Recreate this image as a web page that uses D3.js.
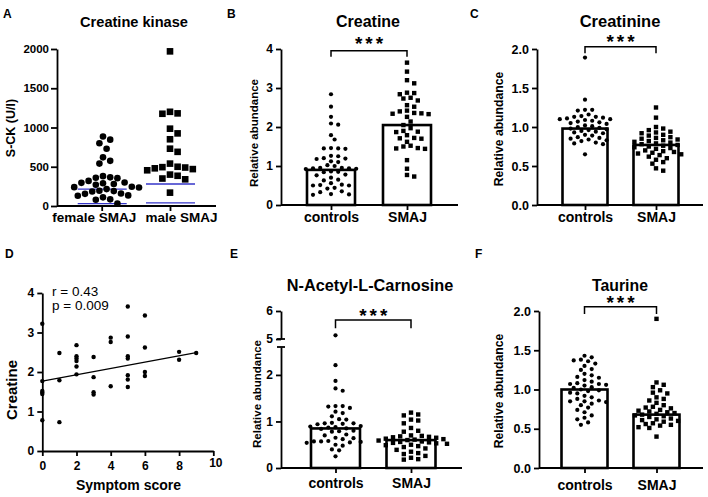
<!DOCTYPE html>
<html><head><meta charset="utf-8">
<script src="https://cdn.jsdelivr.net/npm/d3@7"></script>
<style>body{margin:0;background:#fff} svg{display:block}</style>
</head><body><svg id="c" width="708" height="497"></svg>
<script>
// ---------------- DATA ----------------
const ckCats = ["female SMAJ", "male SMAJ"];
const ckFemale = [885, 845, 800, 730, 620, 575, 540, 380, 365, 360, 355, 320, 300, 295, 290, 280, 270, 245, 240, 235, 215, 195, 190, 185, 160, 155, 135, 130, 110, 85, 80, 30];
const ckMale = [1970, 1200, 1180, 1175, 985, 925, 850, 730, 690, 540, 500, 495, 490, 480, 470, 455, 400, 385, 350, 340, 170];
const ckFemaleLines = [215, 30];
const ckMaleLines = [280, 40];
const ckTicks = [0, 500, 1000, 1500, 2000];

const groupCats = ["controls", "SMAJ"];
const creatineCtrl = [2.84, 2.52, 2.26, 2.09, 2.06, 1.79, 1.68, 1.46, 1.45, 1.45, 1.44, 1.26, 1.25, 1.2, 1.19, 1.18, 1.12, 1.1, 1.02, 1.0, 0.95, 0.95, 0.94, 0.94, 0.93, 0.92, 0.86, 0.85, 0.84, 0.78, 0.76, 0.7, 0.65, 0.63, 0.56, 0.52, 0.51, 0.5, 0.5, 0.44, 0.42, 0.35, 0.33, 0.28, 0.27, 0.26];
const creatineSmaj = [3.65, 3.42, 3.2, 3.12, 2.88, 2.87, 2.84, 2.75, 2.73, 2.68, 2.56, 2.52, 2.42, 2.4, 2.36, 2.35, 2.34, 2.33, 2.26, 2.14, 2.05, 1.97, 1.9, 1.88, 1.87, 1.79, 1.72, 1.71, 1.7, 1.62, 1.52, 1.5, 1.46, 1.45, 1.44, 1.15, 0.93, 0.77, 0.73];
const creatineMeans = [0.9, 2.05];
const creatineTicks = [0, 1, 2, 3, 4];

const creatinineCtrl = [1.89, 1.35, 1.22, 1.22, 1.21, 1.16, 1.14, 1.13, 1.13, 1.12, 1.11, 1.1, 1.1, 1.09, 1.08, 1.07, 1.06, 1.05, 1.04, 1.02, 1.01, 1.0, 0.99, 0.98, 0.97, 0.96, 0.95, 0.94, 0.93, 0.92, 0.9, 0.89, 0.87, 0.86, 0.85, 0.84, 0.83, 0.82, 0.8, 0.79, 0.78, 0.65];
const creatinineSmaj = [1.25, 1.12, 1.0, 0.98, 0.96, 0.94, 0.93, 0.92, 0.9, 0.89, 0.87, 0.86, 0.85, 0.84, 0.83, 0.82, 0.81, 0.8, 0.79, 0.78, 0.77, 0.76, 0.75, 0.74, 0.73, 0.72, 0.7, 0.69, 0.68, 0.67, 0.66, 0.65, 0.64, 0.62, 0.6, 0.58, 0.55, 0.53, 0.47, 0.44];
const creatinineMeans = [0.98, 0.77];
const ratioTicks = [0, 0.5, 1.0, 1.5, 2.0];

const symptomX = [0,0,0,0,0,0, 1,1,1, 2,2,2,2,2,2, 3,3,3,3, 4,4,4, 5,5,5,5,5,5,5, 6,6,6,6, 8,8, 9];
const symptomY = [3.22,1.77,1.52,1.48,1.44,0.78, 2.48,1.79,0.73, 2.68,2.4,2.34,2.28,2.14,1.94, 2.38,1.87,1.49,1.43, 2.87,2.76,1.64, 3.66,2.9,2.4,2.34,1.92,1.81,1.62, 3.43,2.62,2.0,1.9, 2.51,2.31, 2.48];
const regLine = [[0, 1.77], [9, 2.49]];
const symptomXTicks = [0, 2, 4, 6, 8, 10];
const symptomYTicks = [0, 1, 2, 3, 4];
const corrText = ["r = 0.43", "p = 0.009"];

const nacCtrl = [5.13, 2.21, 1.87, 1.71, 1.66, 1.33, 1.33, 1.32, 1.29, 1.21, 1.18, 1.11, 1.05, 1.04, 0.97, 0.96, 0.96, 0.95, 0.94, 0.9, 0.89, 0.88, 0.87, 0.85, 0.84, 0.8, 0.79, 0.78, 0.72, 0.7, 0.65, 0.64, 0.62, 0.58, 0.57, 0.57, 0.56, 0.55, 0.54, 0.5, 0.48, 0.4, 0.38, 0.25];
const nacSmaj = [1.19, 1.15, 1.13, 1.04, 1.02, 0.96, 0.86, 0.8, 0.78, 0.7, 0.69, 0.68, 0.67, 0.66, 0.65, 0.63, 0.62, 0.61, 0.6, 0.59, 0.57, 0.56, 0.55, 0.54, 0.53, 0.52, 0.5, 0.49, 0.47, 0.45, 0.42, 0.39, 0.35, 0.32, 0.3, 0.26, 0.22, 0.19, 0.18];
const nacMeans = [0.85, 0.6];
const nacLowTicks = [0, 1, 2];
const nacHighTicks = [5, 6];

const taurineCtrl = [1.43, 1.41, 1.38, 1.37, 1.36, 1.33, 1.3, 1.26, 1.25, 1.2, 1.18, 1.16, 1.15, 1.12, 1.1, 1.08, 1.07, 1.07, 1.06, 1.05, 1.03, 1.02, 1.0, 0.99, 0.98, 0.96, 0.95, 0.92, 0.9, 0.88, 0.86, 0.85, 0.85, 0.84, 0.82, 0.8, 0.77, 0.74, 0.71, 0.67, 0.64, 0.62, 0.58, 0.55];
const taurineSmaj = [1.9, 1.09, 1.06, 1.03, 0.99, 0.96, 0.95, 0.9, 0.88, 0.86, 0.83, 0.8, 0.78, 0.77, 0.76, 0.74, 0.73, 0.72, 0.71, 0.7, 0.69, 0.68, 0.67, 0.66, 0.65, 0.63, 0.62, 0.61, 0.6, 0.59, 0.57, 0.56, 0.55, 0.54, 0.52, 0.51, 0.4];
const taurineMeans = [1.0, 0.68];

// ---------------- HELPERS ----------------
const svg = d3.select("#c");
const FF = '"Liberation Sans", Arial, Helvetica, sans-serif';
const SW = 1.8;

function addText(x, y, s, size, weight, anchor, rot) {
  const t = svg.append("text").attr("x", x).attr("y", y).text(s)
    .attr("font-family", FF).attr("font-size", size)
    .attr("font-weight", weight || "bold")
    .attr("text-anchor", anchor || "middle").attr("fill", "#000");
  if (rot) t.attr("transform", `rotate(-90,${x},${y})`);
  return t;
}
function styleAxis(g, fs) {
  g.attr("font-family", FF);
  g.selectAll("path,line").attr("stroke", "#000").attr("stroke-width", SW);
  g.selectAll("text").attr("font-family", FF).attr("font-size", fs)
    .attr("font-weight", "bold").attr("fill", "#000");
  return g;
}
function hline(x1, x2, y, w, col) {
  svg.append("line").attr("x1", x1).attr("x2", x2).attr("y1", y).attr("y2", y)
    .attr("stroke", col || "#000").attr("stroke-width", w || SW);
}
// beeswarm layout: horizontal offsets computed from value positions
function swarm(vals, yf, cx, h, dmin) {
  const pts = vals.map(v => ({ v, y: yf(v) })).sort((a, b) => a.y - b.y);
  const placed = [];
  pts.forEach(p => {
    for (let k = 0; k < 80; k++) {
      const off = (k % 2 ? 1 : -1) * Math.ceil(k / 2) * h;
      const x = cx + off;
      if (placed.every(q => (q.x - x) ** 2 + (q.y - p.y) ** 2 >= dmin * dmin)) { p.x = x; break; }
    }
    placed.push(p);
  });
  return placed;
}
function drawPoints(pts, shape, size) {
  const g = svg.append("g");
  if (shape === "circle") {
    g.selectAll("circle").data(pts).join("circle")
      .attr("cx", d => d.x).attr("cy", d => d.y).attr("r", size).attr("fill", "#000");
  } else {
    g.selectAll("rect").data(pts).join("rect")
      .attr("x", d => d.x - size / 2).attr("y", d => d.y - size / 2)
      .attr("width", size).attr("height", size).attr("fill", "#000");
  }
}
function stars(cx, baseline) {
  addText(cx + 1.5, baseline, "***", 19, "bold").attr("letter-spacing", 3);
}
function bracket(x1, x2, y, drop) {
  svg.append("path").attr("d", `M${x1},${drop}V${y}H${x2}V${drop}`)
    .attr("fill", "none").attr("stroke", "#000").attr("stroke-width", 1.5);
}

// generic bar+scatter panel (y-axis drawn separately)
function barPanel(o) {
  const x = d3.scalePoint().domain(groupCats).range(o.centers);
  svg.append("g").selectAll("rect").data(o.means).join("rect")
    .attr("x", (d, i) => x(groupCats[i]) - o.bw / 2).attr("width", o.bw)
    .attr("y", d => o.yf(d)).attr("height", d => o.y0 - o.yf(d))
    .attr("fill", "#fff").attr("stroke", "#000").attr("stroke-width", 2.6);
  drawPoints(swarm(o.ctrl, o.yf, x("controls"), 3.6, 5.2), "circle", 2.1);
  drawPoints(swarm(o.smaj, o.yf, x("SMAJ"), 3.6, 5.2), "rect", 4.4);
  hline(o.ax, o.xEnd, o.y0);
  const gx = svg.append("g").attr("transform", `translate(0,${o.y0})`)
    .call(d3.axisBottom(x).tickSize(5).tickPadding(o.catPad));
  gx.select(".domain").remove();
  styleAxis(gx, 14);
  bracket(x("controls"), x("SMAJ"), o.brY, o.brDrop);
  stars((x("controls") + x("SMAJ")) / 2, o.starY);
  addText(o.titleX, o.titleY, o.title, o.titleSize, "bold");
  addText(o.ylabX, o.ylabY, "Relative abundance", o.ylabSize, "bold", "middle", true);
  addText(o.letterX, o.letterY, o.letter, 12, "bold", "start");
}

// ---------------- PANEL A ----------------
(function () {
  const ax = 57, y0 = 206;
  const y = d3.scaleLinear().domain([0, 2000]).range([y0, 49]);
  const x = d3.scalePoint().domain(ckCats).range([101.7, 170]);
  [ckFemaleLines, ckMaleLines].forEach((arr, i) => {
    const c = x(ckCats[i]);
    arr.forEach(v => hline(c - 24, c + 25, y(v), 1.3, "#3535c8"));
  });
  drawPoints(swarm(ckFemale, y, 103, 3.6, 6.8), "circle", 3.3);
  drawPoints(swarm(ckMale, y, 170, 3.8, 7.4), "rect", 6.6);
  const gy = svg.append("g").attr("transform", `translate(${ax},0)`)
    .call(d3.axisLeft(y).tickValues(ckTicks).tickSize(6).tickSizeOuter(0).tickPadding(2).tickFormat(d3.format("d")));
  styleAxis(gy, 11.5);
  hline(ax, 216, y0);
  const gx = svg.append("g").attr("transform", `translate(0,${y0})`)
    .call(d3.axisBottom(x).tickSize(5).tickPadding(1));
  gx.select(".domain").remove();
  styleAxis(gx, 13.5);
  gx.selectAll(".tick text").attr("dx", (d, i) => i === 0 ? -8 : 11);
  addText(134, 27, "Creatine kinase", 14.6, "bold");
  addText(14.5, 128, "S-CK (U/l)", 12.5, "bold", "middle", true);
  addText(3, 18, "A", 12, "bold", "start");
})();

// ---------------- PANEL B ----------------
(function () {
  const ax = 281, y0 = 205;
  const y = d3.scaleLinear().domain([0, 4]).range([y0, 49]);
  barPanel({ yf: y, y0, ax, xEnd: 458, centers: [331, 407], bw: 48, means: creatineMeans,
    ctrl: creatineCtrl, smaj: creatineSmaj, catPad: 2, brY: 50.7, brDrop: 56.7, starY: 49.5,
    title: "Creatine", titleX: 368, titleY: 27, titleSize: 16,
    ylabX: 258.3, ylabY: 133, ylabSize: 11.5, letter: "B", letterX: 227, letterY: 18 });
  const gy = svg.append("g").attr("transform", `translate(${ax},0)`)
    .call(d3.axisLeft(y).tickValues(creatineTicks).tickSize(5).tickSizeOuter(0).tickPadding(3).tickFormat(d3.format("d")));
  styleAxis(gy, 12);
})();

// ---------------- PANEL C ----------------
(function () {
  const ax = 537, y0 = 205;
  const y = d3.scaleLinear().domain([0, 2]).range([y0, 49]);
  barPanel({ yf: y, y0, ax, xEnd: 703, centers: [585, 656], bw: 45, means: creatinineMeans,
    ctrl: creatinineCtrl, smaj: creatinineSmaj, catPad: 2, brY: 46.7, brDrop: 53.3, starY: 47.5,
    title: "Creatinine", titleX: 620, titleY: 27, titleSize: 16.5,
    ylabX: 503, ylabY: 129, ylabSize: 12.2, letter: "C", letterX: 470, letterY: 18 });
  const gy = svg.append("g").attr("transform", `translate(${ax},0)`)
    .call(d3.axisLeft(y).tickValues(ratioTicks).tickSize(5).tickSizeOuter(0).tickPadding(3).tickFormat(d3.format(".1f")));
  styleAxis(gy, 12.5);
})();

// ---------------- PANEL D ----------------
(function () {
  const x = d3.scaleLinear().domain([0, 10]).range([42.3, 213.3]);
  const y = d3.scaleLinear().domain([0, 4]).range([451, 293]);
  svg.append("line").attr("x1", x(regLine[0][0])).attr("y1", y(regLine[0][1]))
    .attr("x2", x(regLine[1][0])).attr("y2", y(regLine[1][1]))
    .attr("stroke", "#000").attr("stroke-width", 1.1);
  svg.append("g").selectAll("circle").data(symptomX.map((v, i) => [v, symptomY[i]])).join("circle")
    .attr("cx", d => x(d[0])).attr("cy", d => y(d[1])).attr("r", 2.2).attr("fill", "#000");
  const gx = svg.append("g").attr("transform", `translate(0,${y(0)})`)
    .call(d3.axisBottom(x).tickValues(symptomXTicks).tickSize(5).tickSizeOuter(0).tickPadding(5.5).tickFormat(d3.format("d")));
  styleAxis(gx, 12);
  gx.selectAll(".tick text").filter(d => d === 10).attr("y", 7).attr("dx", 2);
  const gy = svg.append("g").attr("transform", `translate(${x(0)},0)`)
    .call(d3.axisLeft(y).tickValues(symptomYTicks).tickSize(5).tickSizeOuter(0).tickPadding(3).tickFormat(d3.format("d")));
  styleAxis(gy, 12);
  addText(52, 296, corrText[0], 13.5, "normal", "start");
  addText(52, 310, corrText[1], 13.5, "normal", "start");
  addText(128.5, 490, "Symptom score", 14, "bold");
  addText(16.7, 390, "Creatine", 15, "bold", "middle", true);
  addText(5, 258, "D", 12, "bold", "start");
})();

// ---------------- PANEL E ----------------
(function () {
  const ax = 281, y0 = 468;
  const yLow = d3.scaleLinear().domain([0, 2.6]).range([y0, 347]);
  const yUp = d3.scaleLinear().domain([5, 6]).range([339, 311]);
  const yf = v => (v >= 5 ? yUp(v) : yLow(v));
  barPanel({ yf, y0, ax, xEnd: 462, centers: [335.5, 411], bw: 49, means: nacMeans,
    ctrl: nacCtrl, smaj: nacSmaj, catPad: 5, brY: 320, brDrop: 328.3, starY: 322,
    title: "N-Acetyl-L-Carnosine", titleX: 370, titleY: 291, titleSize: 16.3,
    ylabX: 261, ylabY: 394, ylabSize: 11.5, letter: "E", letterX: 230, letterY: 258 });
  const g1 = svg.append("g").attr("transform", `translate(${ax},0)`)
    .call(d3.axisLeft(yLow).tickValues(nacLowTicks).tickSize(5).tickSizeOuter(0).tickPadding(3).tickFormat(d3.format("d")));
  styleAxis(g1, 12);
  const g2 = svg.append("g").attr("transform", `translate(${ax},0)`)
    .call(d3.axisLeft(yUp).tickValues(nacHighTicks).tickSize(5).tickSizeOuter(0).tickPadding(3).tickFormat(d3.format("d")));
  styleAxis(g2, 12);
  hline(ax - 4, ax + 4, yUp(5));
  hline(ax - 4, ax + 4, yLow(2.6));
})();

// ---------------- PANEL F ----------------
(function () {
  const ax = 539, y0 = 468;
  const y = d3.scaleLinear().domain([0, 2]).range([y0, 311]);
  barPanel({ yf: y, y0, ax, xEnd: 703, centers: [584.5, 656.5], bw: 46, means: taurineMeans,
    ctrl: taurineCtrl, smaj: taurineSmaj, catPad: 7, brY: 306.7, brDrop: 314, starY: 309,
    title: "Taurine", titleX: 620, titleY: 290.5, titleSize: 15.8,
    ylabX: 503, ylabY: 391, ylabSize: 12.2, letter: "F", letterX: 475, letterY: 258 });
  const gy = svg.append("g").attr("transform", `translate(${ax},0)`)
    .call(d3.axisLeft(y).tickValues(ratioTicks).tickSize(5).tickSizeOuter(0).tickPadding(3).tickFormat(d3.format(".1f")));
  styleAxis(gy, 12.5);
})();
</script>
</body></html>
